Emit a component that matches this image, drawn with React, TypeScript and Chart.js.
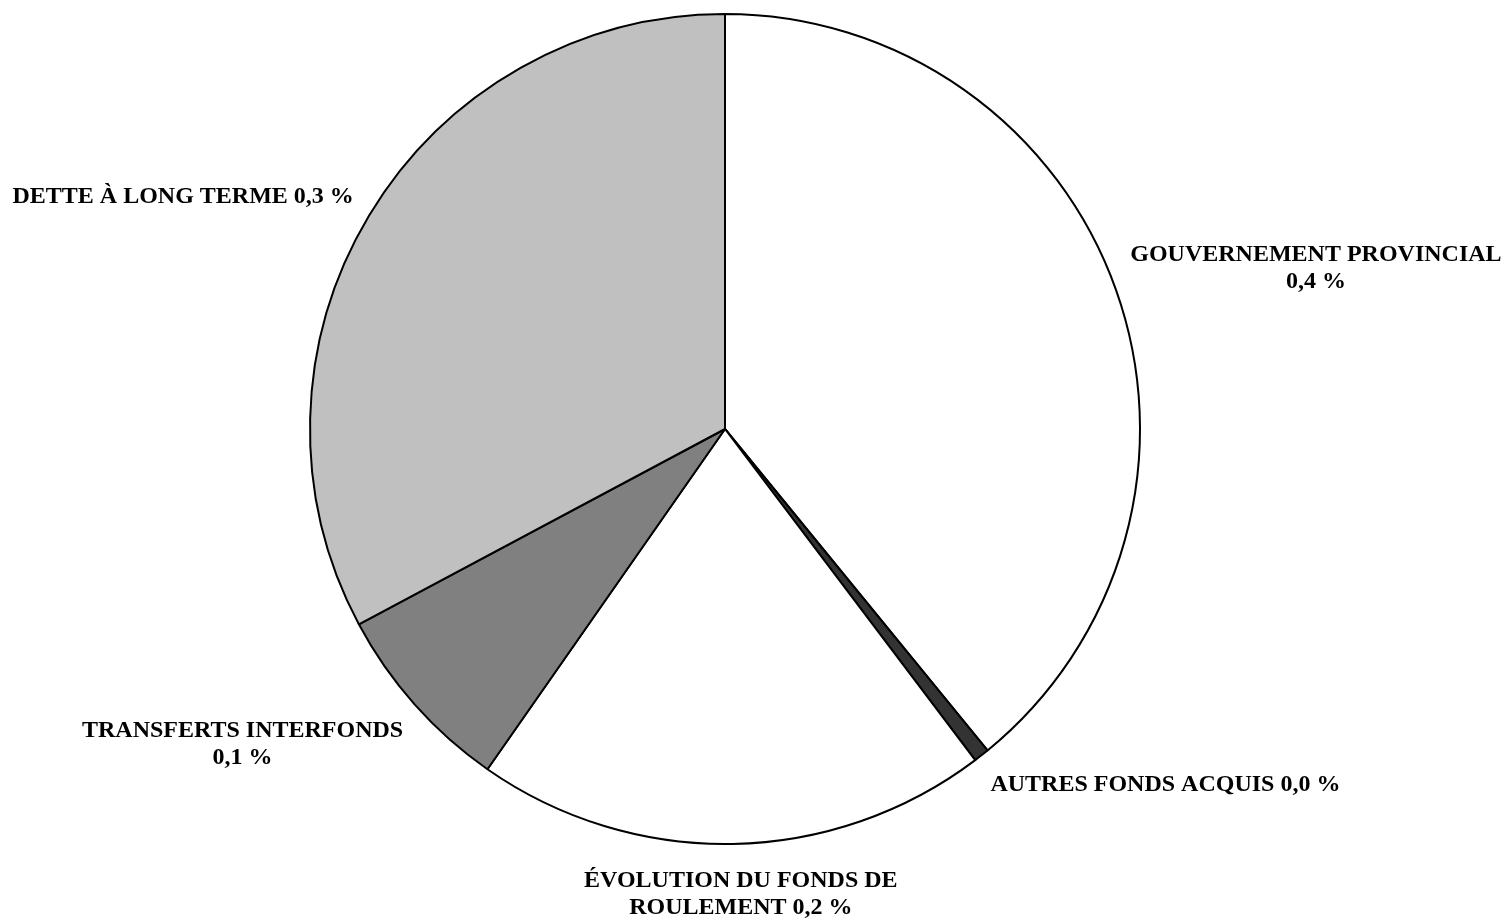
import React, { useEffect, useRef } from "react";
import { Chart, registerables } from "chart.js";

Chart.register(...registerables);

const categories = [
  "GOUVERNEMENT PROVINCIAL",
  "AUTRES FONDS ACQUIS",
  "ÉVOLUTION DU FONDS DE ROULEMENT",
  "TRANSFERTS INTERFONDS",
  "DETTE À LONG TERME",
];
const values = [39.1, 0.6, 20.0, 7.5, 32.8];
const labelLines = [
  ["GOUVERNEMENT PROVINCIAL", "0,4 %"],
  ["AUTRES FONDS ACQUIS 0,0 %"],
  ["ÉVOLUTION DU FONDS DE", "ROULEMENT 0,2 %"],
  ["TRANSFERTS INTERFONDS", "0,1 %"],
  ["DETTE À LONG TERME 0,3 %"],
];
const colors = ["#FFFFFF", "#333333", "#FFFFFF", "#808080", "#C0C0C0"];

// label offsets from the outer point of each slice's mid-angle (pixels)
const labelOffsets = [
  [200, -29],
  [184, 36],
  [8, 43],
  [-172, 33],
  [-186, -13],
];

const labelPlugin = {
  id: "sliceLabels",
  afterDatasetsDraw(chart: any) {
    const ctx = chart.ctx;
    const meta = chart.getDatasetMeta(0);
    ctx.save();
    ctx.font = 'bold 24px "Liberation Serif", "Times New Roman", serif';
    ctx.fillStyle = "#000000";
    ctx.textAlign = "center";
    ctx.textBaseline = "alphabetic";
    meta.data.forEach((arc: any, i: number) => {
      const mid = (arc.startAngle + arc.endAngle) / 2;
      const ax = arc.x + Math.cos(mid) * arc.outerRadius;
      const ay = arc.y + Math.sin(mid) * arc.outerRadius;
      const [dx, dy] = labelOffsets[i];
      labelLines[i].forEach((line, j) => {
        ctx.fillText(line, ax + dx, ay + dy + j * 27);
      });
    });
    ctx.restore();
  },
};

export default function App() {
  const ref = useRef<HTMLCanvasElement | null>(null);
  useEffect(() => {
    if (!ref.current) return;
    const chart = new Chart(ref.current, {
      type: "pie",
      data: {
        labels: categories,
        datasets: [
          {
            data: values,
            backgroundColor: colors,
            borderColor: "#000000",
            borderWidth: 2,
          },
        ],
      },
      options: {
        responsive: false,
        animation: false,
        layout: { padding: { top: 13, bottom: 75, left: 0, right: 54 } },
        plugins: {
          legend: { display: false },
          tooltip: { enabled: false },
        },
      },
      plugins: [labelPlugin],
    });
    return () => chart.destroy();
  }, []);
  return (
    <div style={{ position: "fixed", left: 0, top: 0, width: 1504, height: 920, background: "#fff" }}>
      <canvas ref={ref} width={1504} height={920} />
    </div>
  );
}
